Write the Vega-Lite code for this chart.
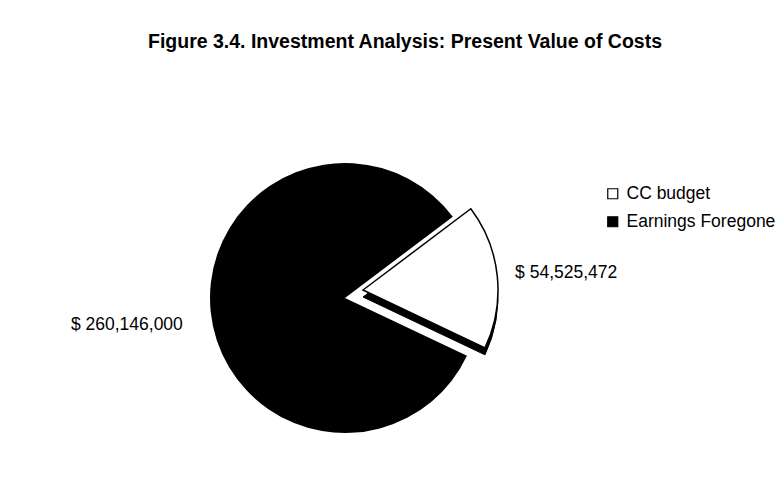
{
  "$schema": "https://vega.github.io/schema/vega-lite/v6.json",
  "width": 690,
  "height": 388,
  "autosize": {"type": "none"},
  "padding": {"left": 0, "top": 104, "right": 94, "bottom": 0},
  "background": "white",
  "config": {"view": {"stroke": null}, "font": "Liberation Sans"},
  "title": {
    "text": "Figure 3.4. Investment Analysis: Present Value of Costs",
    "fontSize": 19.5,
    "fontWeight": "bold",
    "font": "Liberation Sans",
    "color": "black",
    "anchor": "middle",
    "dx": 60,
    "offset": 52
  },
  "data": {
    "values": [
      {"category": "CC budget", "value": 54525472, "label": "$ 54,525,472"},
      {"category": "Earnings Foregone", "value": 260146000, "label": "$ 260,146,000"}
    ]
  },
  "encoding": {
    "theta": {"field": "value", "type": "quantitative", "stack": true, "scale": {"range": [0.925, 7.208]}},
    "order": {"field": "category", "type": "ordinal", "sort": "ascending"}
  },
  "layer": [
    {
      "mark": {"type": "arc", "radius": 135, "xOffset": 18, "yOffset": -1, "fill": "black", "stroke": "black", "strokeWidth": 1},
      "encoding": {
        "detail": {"field": "category"},
        "opacity": {"condition": {"test": "datum.category === 'CC budget'", "value": 1}, "value": 0}
      }
    },
    {
      "mark": {"type": "arc", "radius": 135},
      "encoding": {
        "fill": {
          "field": "category",
          "type": "nominal",
          "scale": {"domain": ["CC budget", "Earnings Foregone"], "range": ["#ffffff", "#000000"]},
          "legend": {
            "title": null,
            "orient": "none",
            "legendX": 604,
            "legendY": 81,
            "symbolType": "square",
            "symbolSize": 100,
            "symbolStrokeColor": "black",
            "symbolStrokeWidth": 1.2,
            "symbolOpacity": 1,
            "labelFont": "Liberation Sans",
            "labelFontSize": 17.5,
            "labelColor": "black",
            "labelOffset": 5,
            "rowPadding": 9
          }
        },
        "opacity": {"condition": {"test": "datum.category === 'Earnings Foregone'", "value": 1}, "value": 0}
      }
    },
    {
      "mark": {"type": "arc", "radius": 135, "xOffset": 18, "yOffset": -8, "stroke": "black", "strokeWidth": 1.5},
      "encoding": {
        "fill": {"field": "category", "type": "nominal"},
        "opacity": {"condition": {"test": "datum.category === 'CC budget'", "value": 1}, "value": 0}
      }
    },
    {
      "mark": {"type": "text", "radius": 171, "align": "left", "baseline": "middle", "dy": -8, "fontSize": 17.5, "font": "Liberation Sans", "color": "black"},
      "encoding": {
        "text": {"field": "label"},
        "detail": {"field": "category"},
        "opacity": {"condition": {"test": "datum.category === 'CC budget'", "value": 1}, "value": 0}
      }
    },
    {
      "mark": {"type": "text", "radius": 163, "align": "right", "baseline": "middle", "dy": 10, "fontSize": 17.5, "font": "Liberation Sans", "color": "black"},
      "encoding": {
        "text": {"field": "label"},
        "detail": {"field": "category"},
        "opacity": {"condition": {"test": "datum.category === 'Earnings Foregone'", "value": 1}, "value": 0}
      }
    }
  ]
}
